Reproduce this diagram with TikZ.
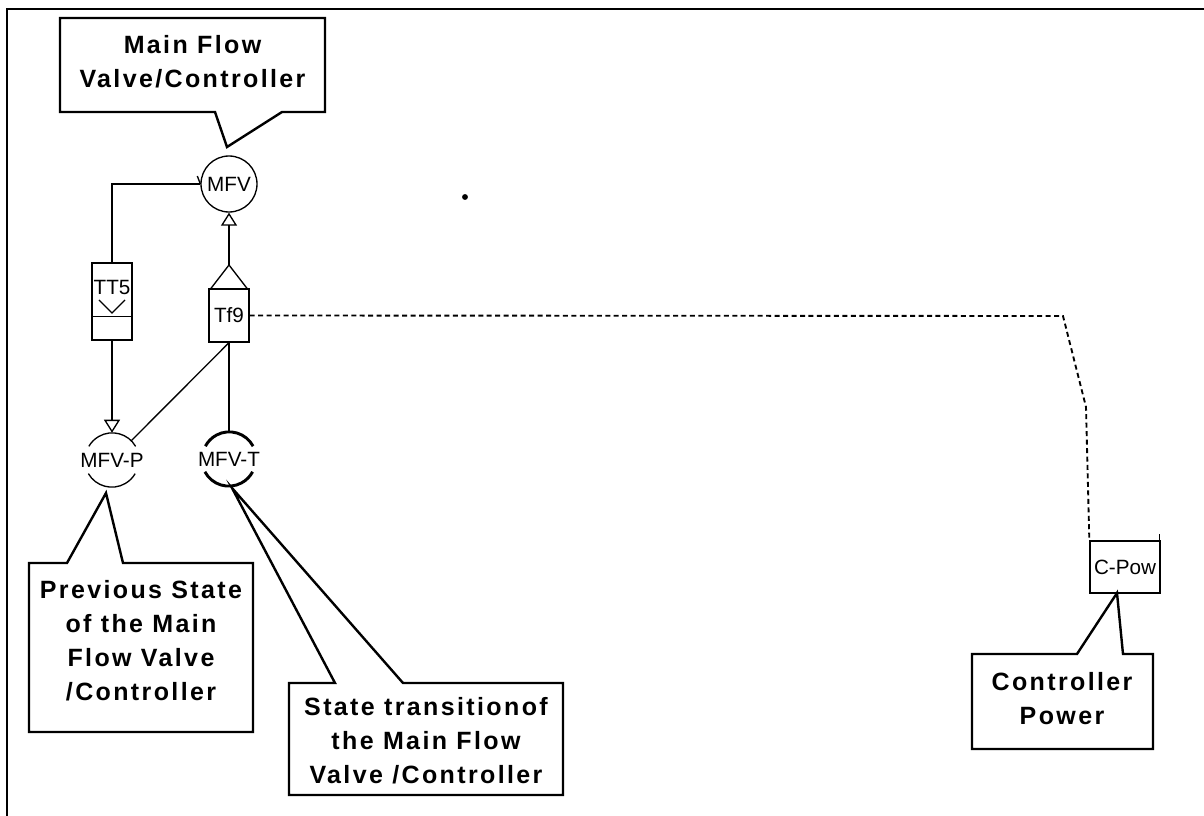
\documentclass[tikz,border=0pt]{standalone}
\usepackage{fontspec}
\setmainfont{Liberation Sans}
\newfontfamily\callfont{Liberation Sans Bold}[LetterSpace=9.5]
\usetikzlibrary{arrows.meta}
\begin{document}
\begin{tikzpicture}[x=0.75pt,y=-0.75pt,
  conn/.style={line width=1pt},
  callout/.style={line width=1.8pt, line join=miter},
  ctext/.style={font=\callfont\fontsize{18.75}{25.5}\selectfont, align=center, inner sep=0pt},
  sml/.style={font=\fontsize{15.5}{18}\selectfont, inner sep=0pt},
  openTip/.style={-{Triangle[open, length=9.75pt, width=12pt, line width=1pt]}},
  dashline/.style={line width=1.4pt, dash pattern=on 3.75pt off 2.6pt}]
\useasboundingbox (0,0) rectangle (1204,816);
% frame
\draw[line width=1.8pt] (7,816) -- (7,9) -- (1204,9);
% circles
\node[circle, draw, line width=1pt, minimum size=42pt, inner sep=0pt] (mfv) at (229,184) {};
\node[sml] at (mfv) {MFV};
\node[circle, minimum size=40.5pt, inner sep=0pt] (mfvp) at (112,460) {};
\node[sml] at (mfvp) {MFV-P};
\draw[conn] (mfvp.30) arc[start angle=30, end angle=150, radius=20.25pt];
\draw[conn] (mfvp.210) arc[start angle=210, end angle=330, radius=20.25pt];
\node[circle, minimum size=40.5pt, inner sep=0pt] (mfvt) at (229,459) {};
\node[sml] at (mfvt) {MFV-T};
\draw[line width=2.2pt] (mfvt.28) arc[start angle=28, end angle=152, radius=20.25pt];
\draw[line width=2.2pt] (mfvt.208) arc[start angle=208, end angle=332, radius=20.25pt];
% TT5
\node[draw, line width=1pt, minimum width=30pt, minimum height=57.75pt, inner sep=0pt] (tt5) at (112,301.5) {};
\draw[conn] ([yshift=18pt]tt5.south west) -- ([yshift=18pt]tt5.south east);
\node[sml] at (112,287) {TT5};
\draw[conn] (99,300) -- (112,313) -- (125,300);
% Tf9
\node[draw, line width=1pt, minimum width=30pt, minimum height=39.75pt, inner sep=0pt, sml] (tf9) at (229,315.5) {Tf9};
\coordinate (tf9cap) at (229,265);
\draw[conn] ([xshift=2pt]tf9.north west) -- (tf9cap) -- ([xshift=-2pt]tf9.north east);
% C-Pow
\node[draw, line width=1pt, minimum width=52.5pt, minimum height=39pt, inner sep=0pt, sml] (cpow) at (1125,567) {C-Pow};
\draw[conn] ([xshift=-1pt]cpow.north east) -- ++(0,-6);
% connectors
\draw[conn] (tt5.north) |- (mfv.west);
\draw[conn] (mfv.west) -- ++(-3,-8);
\draw[conn, openTip] (tf9cap) -- (mfv.south);
\draw[conn, openTip] (tt5.south) -- (mfvp.north);
\draw[conn] (tf9.south) -- (mfvp.45);
\draw[conn] (tf9.south) -- (mfvt.north);
\coordinate (d1) at (1063,316);
\coordinate (d2) at (1086,407);
\draw[dashline] (tf9.east) -- (d1) -- (d2) -- (cpow.north west);
% callouts
\coordinate (mtip) at (227,147);
\draw[callout] (60,18) -- (325,18) -- (325,112) -- (282,112) -- (mtip) -- (215,112) -- (60,112) -- cycle;
\node[ctext] (mflabel) at (192.5,61.5) {Main Flow\\Valve/Controller};
\coordinate (ptip) at (106,493);
\draw[callout] (29,563) -- (67,563) -- (ptip) -- (123,563) -- (253,563) -- (253,732) -- (29,732) -- cycle;
\node[ctext] (plabel) at (141,641) {Previous State\\of the Main\\Flow Valve\\/Controller};
\coordinate (ttip) at (232,488);
\draw[callout] (289,683) -- (335,683) -- (ttip) -- (403,683) -- (563,683) -- (563,795) -- (289,795) -- cycle;
\node[ctext] (tlabel) at (426,741) {State transitionof\\the Main Flow\\Valve /Controller};
\coordinate (ctip) at (1117,593);
\draw[callout] (972,654) -- (1077,654) -- (ctip) -- (1123,654) -- (1153,654) -- (1153,749) -- (972,749) -- cycle;
\node[ctext] (clabel) at (1062,698.5) {Controller\\Power};
% speck
\fill (465,197) circle[radius=2.2pt];
\end{tikzpicture}
\end{document}
